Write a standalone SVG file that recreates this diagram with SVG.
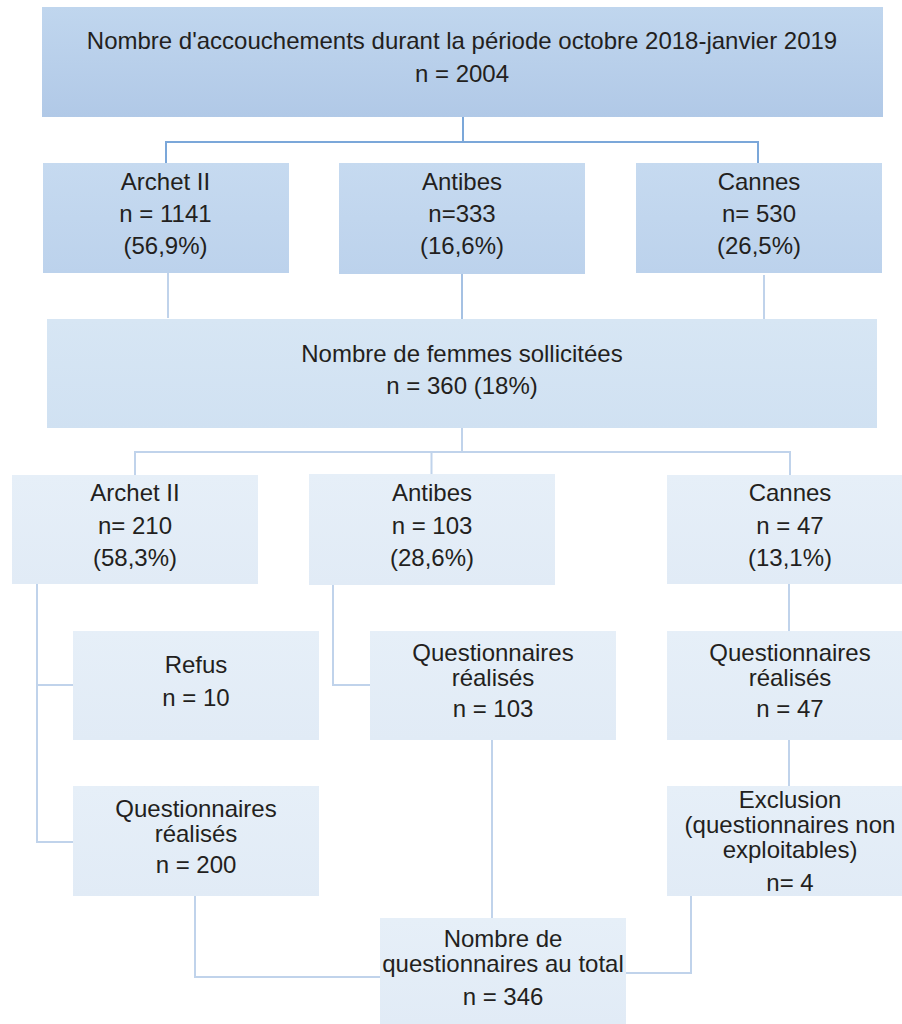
<svg xmlns="http://www.w3.org/2000/svg" width="902" height="1024" viewBox="0 0 902 1024">
<defs>
<linearGradient id="gTop" x1="0" y1="0" x2="0" y2="1"><stop offset="0" stop-color="#c0d6ee"/><stop offset="1" stop-color="#b1c9e7"/></linearGradient>
<linearGradient id="gL2" x1="0" y1="0" x2="0" y2="1"><stop offset="0" stop-color="#c6daf0"/><stop offset="1" stop-color="#bcd2ec"/></linearGradient>
<linearGradient id="gMid" x1="0" y1="0" x2="0" y2="1"><stop offset="0" stop-color="#d7e6f4"/><stop offset="1" stop-color="#d0e1f2"/></linearGradient>
<linearGradient id="gLow" x1="0" y1="0" x2="0" y2="1"><stop offset="0" stop-color="#e6eff8"/><stop offset="1" stop-color="#e1ebf6"/></linearGradient>
</defs>
<style>
text{font-family:"Liberation Sans",Arial,sans-serif;font-size:24px;fill:#231f20;text-anchor:middle}
.c{fill:none;stroke:#c0d3eb;stroke-width:2}
.cd{fill:none;stroke:#7ba7d9;stroke-width:2}
.cm{fill:none;stroke:#a5c1e3;stroke-width:2}
.top{fill:url(#gTop)}
.l2{fill:url(#gL2)}
.mid{fill:url(#gMid)}
.low{fill:url(#gLow)}
</style>
<g id="connectors">
<path class="cd" d="M463 117V142M166 163V142H758V163"/>
<path class="c" d="M168 273V318M764 275V321"/>
<path class="cm" d="M462 274V319"/>
<path class="c" d="M462 428V452M135 475V452H790V475M431.5 452V474"/>
<path class="c" d="M37 584V842H73M37 685H73"/>
<path class="c" d="M333 585V685H370"/>
<path class="c" d="M789 584V631M789 740V786"/>
<path class="c" d="M195 896V977H380M492 740V918M691 896V973H626"/>
</g>
<g id="n-total-accouchements">
<rect class="top" x="42" y="7" width="841" height="110"/>
<text x="462" y="49">Nombre d'accouchements durant la période octobre 2018-janvier 2019</text>
<text x="462" y="82">n = 2004</text>
</g>
<g id="n-archet-1">
<rect class="l2" x="43" y="163" width="246" height="110"/>
<text x="165.5" y="190">Archet II</text>
<text x="165.5" y="222">n = 1141</text>
<text x="165.5" y="254">(56,9%)</text>
</g>
<g id="n-antibes-1">
<rect class="l2" x="339" y="163" width="246" height="111"/>
<text x="462" y="190">Antibes</text>
<text x="462" y="222">n=333</text>
<text x="462" y="254">(16,6%)</text>
</g>
<g id="n-cannes-1">
<rect class="l2" x="636" y="163" width="246" height="110"/>
<text x="759" y="190">Cannes</text>
<text x="759" y="222">n= 530</text>
<text x="759" y="254">(26,5%)</text>
</g>
<g id="n-femmes">
<rect class="mid" x="47" y="319" width="830" height="109"/>
<text x="462" y="362">Nombre de femmes sollicitées</text>
<text x="462" y="394">n = 360 (18%)</text>
</g>
<g id="n-archet-2">
<rect class="low" x="12" y="475" width="246" height="109"/>
<text x="135" y="501">Archet II</text>
<text x="135" y="534">n= 210</text>
<text x="135" y="566">(58,3%)</text>
</g>
<g id="n-antibes-2">
<rect class="low" x="309" y="474" width="246" height="111"/>
<text x="432" y="501">Antibes</text>
<text x="432" y="534">n = 103</text>
<text x="432" y="566">(28,6%)</text>
</g>
<g id="n-cannes-2">
<rect class="low" x="667" y="475" width="246" height="109"/>
<text x="790" y="501">Cannes</text>
<text x="790" y="534">n = 47</text>
<text x="790" y="566">(13,1%)</text>
</g>
<g id="n-refus">
<rect class="low" x="73" y="631" width="246" height="109"/>
<text x="196" y="673">Refus</text>
<text x="196" y="706">n = 10</text>
</g>
<g id="n-quest-archet">
<rect class="low" x="73" y="786" width="246" height="110"/>
<text x="196" y="817">Questionnaires</text>
<text x="196" y="842">réalisés</text>
<text x="196" y="873">n = 200</text>
</g>
<g id="n-quest-antibes">
<rect class="low" x="370" y="631" width="246" height="109"/>
<text x="493" y="661">Questionnaires</text>
<text x="493" y="686">réalisés</text>
<text x="493" y="717">n = 103</text>
</g>
<g id="n-quest-cannes">
<rect class="low" x="667" y="631" width="246" height="109"/>
<text x="790" y="661">Questionnaires</text>
<text x="790" y="686">réalisés</text>
<text x="790" y="717">n = 47</text>
</g>
<g id="n-exclusion">
<rect class="low" x="667" y="786" width="246" height="110"/>
<text x="790" y="808">Exclusion</text>
<text x="790" y="833">(questionnaires non</text>
<text x="790" y="858">exploitables)</text>
<text x="790" y="891">n= 4</text>
</g>
<g id="n-total-quest">
<rect class="low" x="380" y="918" width="246" height="106"/>
<text x="503" y="947">Nombre de</text>
<text x="503" y="972">questionnaires au total</text>
<text x="503" y="1005">n = 346</text>
</g>
</svg>
